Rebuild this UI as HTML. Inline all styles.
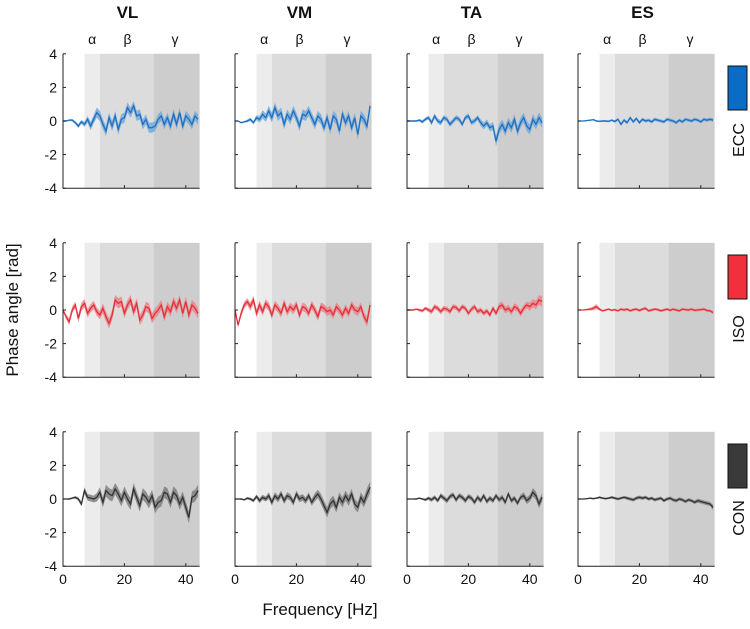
<!DOCTYPE html>
<html><head><meta charset="utf-8"><style>
body{margin:0;background:#fff}
svg{display:block;font-family:"Liberation Sans",Arial,sans-serif}
</style></head><body>
<svg id="chart" width="750" height="629" viewBox="0 0 750 629"></svg>
<script>
const muscles=["VL","VM","TA","ES"];
const conditions=["ECC","ISO","CON"];
const freqs=[0,1,2,3,4,5,6,7,8,9,10,11,12,13,14,15,16,17,18,19,20,21,22,23,24,25,26,27,28,29,30,31,32,33,34,35,36,37,38,39,40,41,42,43,44];
const xTicks=[0,20,40];
const yTicks=[-4,-2,0,2,4];
const bands=[[7,12,"#ececec"],[12,29.5,"#dcdcdc"],[29.5,44.5,"#cdcdcd"]];
const bandLabels=[["α",9.5],["β",21],["γ",36.5]];
// mean phase values [rad], per condition row, per muscle column
const eccVL=[0,0,0.05,0.05,-0.1,-0.3,-0.05,-0.2,0.1,-0.3,0.1,0.5,0.3,-0.2,-0.6,0.2,-0.3,0.3,-0.5,0.1,0.2,0.8,0.5,0.9,0.3,0.4,-0.2,0.1,-0.4,-0.4,-0.3,0.1,0.3,-0.2,0.2,-0.3,0.4,-0.2,0.5,-0.3,0.3,0.1,-0.2,0.3,0.1];
const eccVM=[0,0,-0.1,-0.05,0,0.1,-0.1,0.2,0.1,0.4,0.2,0.6,0.2,0.8,0.3,0.5,-0.2,0.4,0.1,0.6,0.2,-0.3,0.4,0.3,0.6,0.2,-0.2,0.3,0.1,-0.4,0.2,-0.5,0.3,0.1,-0.6,0.4,-0.1,0.3,-0.4,0.2,-0.8,0.3,0.1,-0.3,0.9];
const eccTA=[0,0,0,0,0.05,-0.05,0.1,0.2,-0.1,0.3,0,-0.1,0.2,0.1,-0.2,0,0.2,0.1,-0.2,0.2,0.3,-0.1,0,0.2,-0.1,-0.3,-0.1,-0.4,-0.3,-1.2,-0.5,-0.2,-0.6,-0.1,-0.4,0.1,-0.6,-0.1,0.2,-0.3,-0.5,0.1,-0.2,0.2,-0.1];
const eccES=[0,0,0,0.03,0.05,0.08,0,-0.02,0,0,-0.02,0.05,-0.03,0.1,-0.2,0.05,-0.1,0.2,-0.05,0.15,-0.1,0.1,0,0.05,-0.05,0.1,0.05,0,-0.05,0.1,0.05,0,-0.1,0.05,-0.05,0.1,0.05,0,0.1,0.05,-0.05,0.1,0.05,0.1,0.05];
const isoVL=[0,-0.4,-0.7,0,0.3,-0.5,0.2,0.4,-0.2,0.1,0.3,-0.1,-0.3,0.1,-0.4,-0.8,-0.3,0.6,0.4,0.5,-0.2,0.3,0.6,-0.1,0.4,-0.6,-0.3,0.2,0.1,-0.5,-0.2,0,0.3,-0.4,0.2,-0.1,0.5,0.1,0.6,-0.2,0.5,-0.3,0.3,0.1,-0.2];
const isoVM=[0,-0.9,-0.2,0.3,0.5,0.2,0.6,-0.2,0.3,-0.1,0.4,0.2,-0.3,0.3,0.1,-0.2,0.4,-0.1,0.2,0,0.3,-0.3,0.2,0.1,-0.2,0.3,0,-0.4,0.2,0.1,-0.1,0,-0.3,0.2,0,-0.3,0.1,-0.2,0.3,0,-0.1,0.2,-0.4,-0.7,0.3];
const isoTA=[0,0,0,0.05,0,-0.05,0.1,0,-0.1,0.2,0.1,-0.1,0.1,0.05,-0.1,0.2,0.15,-0.05,0.2,0.1,-0.2,0.05,0.2,-0.1,0,-0.2,-0.05,-0.3,0.1,-0.2,0.2,0.3,0,0.1,-0.1,0.2,0.1,-0.2,0.1,0.3,0.2,0.4,0.3,0.6,0.5];
const isoES=[0,0,0,0.03,0.05,0.1,0.2,0.05,-0.05,0,0.05,-0.02,0.02,-0.05,0.05,0,0.05,-0.05,0.02,0.05,-0.03,0.05,0.1,-0.05,0,0.05,0.02,-0.05,0,0.05,-0.02,0.05,0,-0.05,0.05,0.02,0,0.05,-0.02,0,0.02,0.05,-0.03,-0.05,-0.15];
const conVL=[0,0,0,0.05,0.1,0,-0.3,0.5,0.1,0.05,0,0.1,0.4,-0.2,0.5,0.3,0.2,0.6,0.3,-0.1,0.4,0,-0.3,0.6,0.1,-0.4,0.3,0.1,-0.2,0.2,-0.5,-0.2,-0.1,0.4,0.3,-0.2,0.4,0.2,-0.3,0.1,-0.5,-1.1,0.1,0.2,0.5];
const conVM=[0,0,0,-0.05,0.05,0,-0.1,0.15,-0.1,0.1,0,0.2,-0.2,0.2,0,0.3,-0.1,0.2,0.1,-0.2,0.3,0,0.1,-0.1,0.2,-0.2,0.1,0.3,0,-0.4,-0.8,-0.3,-0.1,-0.5,0.1,-0.2,0.2,-0.1,0.3,-0.3,-0.5,0.1,-0.2,0.3,0.7];
const conTA=[0,0,0,0,0.05,0,-0.05,0.05,-0.05,0.1,-0.1,0.2,0.05,-0.1,0.15,0.25,-0.05,0.2,0.1,-0.1,0.15,0.05,-0.2,0.1,-0.1,0.2,-0.15,0.05,-0.1,0.2,-0.05,0.1,-0.2,0.3,-0.1,0.05,-0.25,0.1,0.2,-0.1,0.05,0.4,0.2,-0.3,0.1];
const conES=[0,0,0,0.02,0.05,0.02,0.05,0.1,0.05,0.02,0.05,0.1,0.05,0,0.05,0.1,0.05,0,-0.05,0.05,0.1,0.05,0.1,0,0.05,-0.05,0,0.05,-0.1,0,0.05,-0.05,-0.1,0,-0.05,-0.15,-0.05,-0.1,-0.2,-0.1,-0.15,-0.2,-0.25,-0.3,-0.5];
// error band half-widths [rad]
const eccVLerr=[0.05,0.05,0.05,0.08,0.1,0.12,0.12,0.15,0.2,0.25,0.25,0.3,0.3,0.3,0.3,0.3,0.3,0.3,0.3,0.3,0.3,0.3,0.3,0.3,0.3,0.3,0.3,0.3,0.3,0.3,0.3,0.3,0.3,0.3,0.3,0.3,0.3,0.3,0.3,0.3,0.3,0.3,0.3,0.3,0.3];
const eccVMerr=[0.03,0.03,0.05,0.05,0.08,0.1,0.1,0.15,0.2,0.25,0.25,0.3,0.3,0.3,0.3,0.3,0.3,0.3,0.3,0.3,0.3,0.3,0.3,0.3,0.3,0.3,0.3,0.3,0.3,0.3,0.3,0.3,0.3,0.3,0.3,0.3,0.3,0.3,0.3,0.3,0.3,0.3,0.3,0.3,0.3];
const eccTAerr=[0.05,0.05,0.05,0.05,0.08,0.1,0.1,0.12,0.15,0.15,0.15,0.15,0.15,0.15,0.15,0.15,0.15,0.15,0.15,0.15,0.15,0.15,0.15,0.15,0.2,0.2,0.2,0.2,0.25,0.3,0.3,0.3,0.3,0.3,0.3,0.3,0.3,0.3,0.3,0.3,0.3,0.3,0.3,0.3,0.3];
const eccESerr=[0.03,0.03,0.03,0.03,0.04,0.05,0.05,0.05,0.06,0.06,0.06,0.06,0.08,0.08,0.1,0.1,0.1,0.1,0.1,0.1,0.1,0.1,0.1,0.1,0.1,0.1,0.1,0.1,0.1,0.1,0.1,0.1,0.1,0.1,0.1,0.1,0.1,0.1,0.1,0.1,0.1,0.1,0.1,0.1,0.1];
const isoVLerr=[0.05,0.15,0.2,0.2,0.2,0.25,0.25,0.25,0.25,0.25,0.25,0.25,0.25,0.3,0.3,0.3,0.3,0.3,0.3,0.3,0.3,0.3,0.3,0.3,0.3,0.3,0.3,0.3,0.3,0.3,0.3,0.3,0.3,0.3,0.3,0.3,0.3,0.3,0.3,0.3,0.3,0.3,0.3,0.3,0.3];
const isoVMerr=[0.05,0.15,0.2,0.2,0.2,0.25,0.25,0.25,0.25,0.25,0.25,0.25,0.25,0.25,0.25,0.25,0.25,0.25,0.25,0.25,0.25,0.25,0.25,0.25,0.25,0.25,0.25,0.25,0.25,0.25,0.25,0.25,0.25,0.25,0.25,0.25,0.25,0.25,0.25,0.25,0.25,0.25,0.25,0.3,0.3];
const isoTAerr=[0.05,0.05,0.05,0.05,0.08,0.1,0.1,0.12,0.15,0.15,0.15,0.15,0.15,0.15,0.15,0.15,0.15,0.15,0.15,0.15,0.15,0.15,0.15,0.15,0.15,0.15,0.15,0.15,0.15,0.15,0.2,0.2,0.2,0.2,0.2,0.2,0.2,0.2,0.2,0.2,0.25,0.25,0.25,0.3,0.3];
const isoESerr=[0.03,0.03,0.03,0.05,0.08,0.12,0.15,0.08,0.06,0.06,0.06,0.06,0.06,0.06,0.08,0.08,0.08,0.08,0.08,0.08,0.08,0.08,0.1,0.08,0.08,0.08,0.08,0.08,0.08,0.08,0.08,0.08,0.08,0.08,0.08,0.08,0.08,0.08,0.08,0.08,0.08,0.08,0.08,0.08,0.1];
const conVLerr=[0.03,0.03,0.05,0.05,0.08,0.1,0.15,0.2,0.2,0.2,0.2,0.25,0.3,0.3,0.35,0.35,0.35,0.35,0.35,0.35,0.35,0.35,0.35,0.35,0.35,0.35,0.35,0.35,0.35,0.35,0.35,0.35,0.35,0.35,0.35,0.35,0.35,0.35,0.35,0.35,0.35,0.35,0.35,0.35,0.35];
const conVMerr=[0.03,0.03,0.05,0.05,0.08,0.08,0.1,0.12,0.15,0.15,0.15,0.2,0.2,0.2,0.2,0.2,0.2,0.2,0.2,0.2,0.2,0.2,0.2,0.2,0.2,0.2,0.25,0.25,0.3,0.3,0.3,0.3,0.3,0.3,0.3,0.3,0.3,0.3,0.3,0.3,0.3,0.3,0.3,0.35,0.35];
const conTAerr=[0.03,0.03,0.03,0.05,0.05,0.05,0.08,0.1,0.12,0.12,0.12,0.15,0.15,0.15,0.15,0.15,0.15,0.15,0.15,0.15,0.15,0.15,0.15,0.15,0.15,0.15,0.15,0.15,0.15,0.15,0.15,0.15,0.15,0.15,0.15,0.15,0.15,0.15,0.2,0.2,0.2,0.25,0.25,0.25,0.25];
const conESerr=[0.03,0.03,0.03,0.03,0.05,0.05,0.05,0.06,0.06,0.06,0.06,0.08,0.08,0.08,0.08,0.08,0.1,0.1,0.1,0.1,0.1,0.1,0.1,0.1,0.1,0.1,0.1,0.1,0.1,0.1,0.1,0.1,0.1,0.1,0.1,0.1,0.1,0.1,0.1,0.12,0.12,0.12,0.12,0.12,0.15];

const means=[[eccVL,eccVM,eccTA,eccES],[isoVL,isoVM,isoTA,isoES],[conVL,conVM,conTA,conES]];
const errs=[[eccVLerr,eccVMerr,eccTAerr,eccESerr],[isoVLerr,isoVMerr,isoTAerr,isoESerr],[conVLerr,conVMerr,conTAerr,conESerr]];
const lineColors=["#1f6fbf","#e3303a","#333333"];
const fillColors=["#6fa8da","#ec7f86","#7a7a7a"];
const boxColors=["#0a6cc4","#f0303c","#3a3a3a"];

const NS="http://www.w3.org/2000/svg";
const svg=document.getElementById("chart");
function mk(tag,attrs,parent){const e=document.createElementNS(NS,tag);for(const k in attrs)e.setAttribute(k,attrs[k]);(parent||svg).appendChild(e);return e;}
const colX=[63,235,407,578];
const rowY0=[121,310,499];
const pxHz=3.07, pxRad=16.8;
const xMax=44.5;

// global labels
let t=mk("text",{x:18,y:310,"font-size":17,"text-anchor":"middle",transform:"rotate(-90 18 310)",fill:"#111"});
t.textContent="Phase angle [rad]";


t=mk("text",{x:320,y:615,"font-size":17,"text-anchor":"middle",fill:"#111"});
t.textContent="Frequency [Hz]";



muscles.forEach((m,c)=>{
  const x0=colX[c];
  const sx=f=>x0+f*pxHz;
  const tt=mk("text",{x:sx(21),y:18,"font-size":17,"font-weight":"bold","text-anchor":"middle",fill:"#111"});
  tt.textContent=m;
  
  
  bandLabels.forEach(([g,f])=>{
    const bl=mk("text",{x:sx(f),y:44,"font-size":14,"text-anchor":"middle",fill:"#111"});
    bl.textContent=g;
    
    
  });
  conditions.forEach((cond,r)=>{
    const y0=rowY0[r];
    const sy=v=>y0-v*pxRad;
    const g=mk("g",{});
    
    
    bands.forEach(([a,b,col])=>{
      const rc=mk("rect",{x:sx(a),y:sy(4),width:sx(b)-sx(a),height:sy(-4)-sy(4),fill:col},g);
      
      
    });
    const mu=means[r][c], er=errs[r][c];
    let up=freqs.map((f,i)=>sx(f)+","+sy(mu[i]+er[i]));
    let dn=freqs.map((f,i)=>sx(f)+","+sy(mu[i]-er[i])).reverse();
    const band=mk("polygon",{points:up.concat(dn).join(" "),fill:fillColors[r],"fill-opacity":0.8,stroke:"none"},g);
    
    
    const ln=mk("polyline",{points:freqs.map((f,i)=>sx(f)+","+sy(mu[i])).join(" "),fill:"none",stroke:lineColors[r],"stroke-width":1.3},g);
    
    
    // axes
    const ax=mk("path",{d:`M${x0},${sy(4)}V${sy(-4)}H${sx(xMax)}`,stroke:"#222","stroke-width":1,fill:"none"},g);
    
    
    yTicks.forEach(v=>{
      mk("line",{x1:x0,x2:x0+3,y1:sy(v),y2:sy(v),stroke:"#222"},g);
      if(c===0){
        const tl=mk("text",{x:x0-6,y:sy(v)+5,"font-size":14,"text-anchor":"end",fill:"#111"},g);
        tl.textContent=v;
        
        
      }
    });
    xTicks.forEach(v=>{
      mk("line",{x1:sx(v),x2:sx(v),y1:sy(-4),y2:sy(-4)-3,stroke:"#222"},g);
      if(r===2){
        const tl=mk("text",{x:sx(v),y:sy(-4)+18,"font-size":14,"text-anchor":"middle",fill:"#111"},g);
        tl.textContent=v;
        
        
      }
    });
  });
});
conditions.forEach((cond,r)=>{
  const off=rowY0[r]-121;
  const b=mk("rect",{x:728,y:66+off,width:19,height:44,fill:boxColors[r],stroke:"#111","stroke-width":1});
  
  
  const l=mk("text",{x:744,y:140+off,"font-size":16,"text-anchor":"middle",transform:`rotate(-90 744 ${140+off})`,fill:"#111"});
  l.textContent=cond;
  
  
});
</script>
</body></html>
